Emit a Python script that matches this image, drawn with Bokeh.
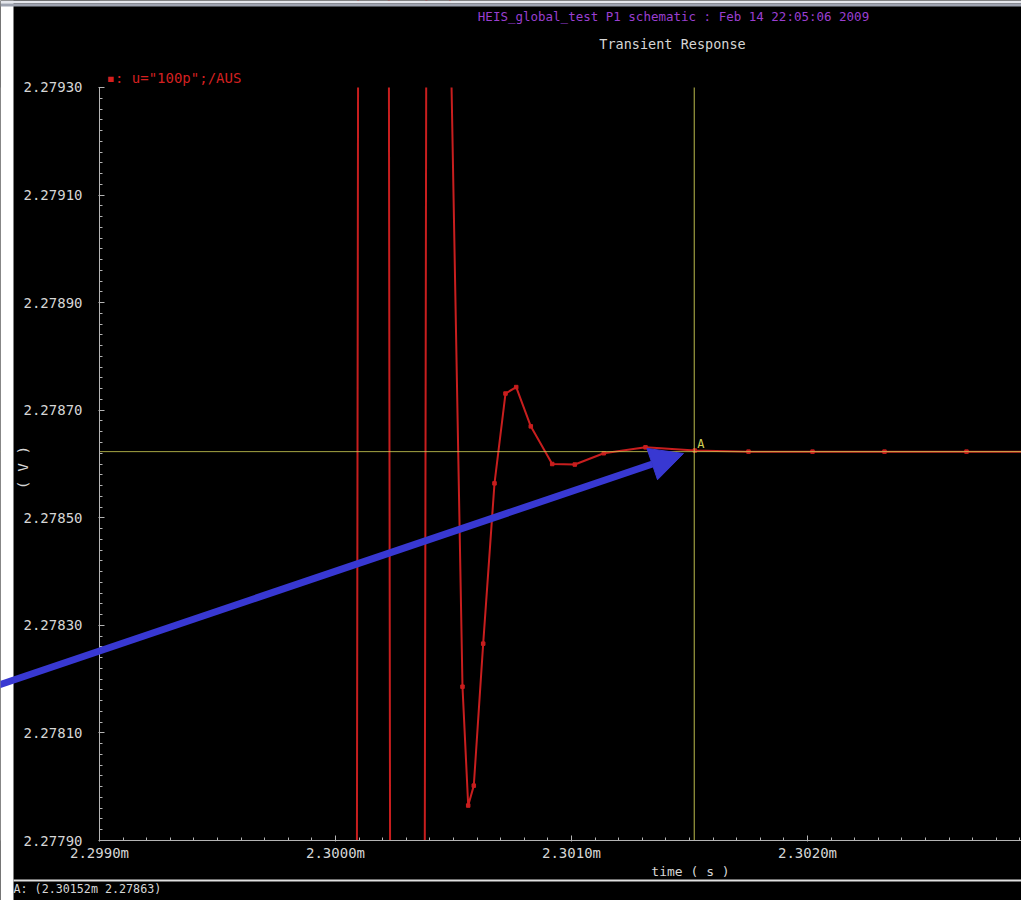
import math
from bokeh.plotting import figure
from bokeh.models import (Range1d, FixedTicker, PrintfTickFormatter, Span, Label,
                          Arrow, NormalHead, BoxAnnotation, ColumnDataSource)
from bokeh.embed import file_html
from bokeh.resources import INLINE

# ---- data (time in ms, voltage in V) ----
time_ms = [2.29865, 2.3000254, 2.3001610, 2.3002966, 2.3003898, 2.3004746,
           2.3005381, 2.3005623, 2.3005860, 2.3006258, 2.3006737, 2.3007203,
           2.3007657, 2.3008275, 2.3009182, 2.3010140, 2.3011369, 2.3013136,
           2.3015225, 2.3017500, 2.3020212, 2.3023263, 2.3026737, 2.3030636]
volts = [2.25500, 2.25860, 2.29860, 2.25860, 2.28060, 2.279713,
         2.278186, 2.277965, 2.278002, 2.278266, 2.278564, 2.278731,
         2.278743, 2.278670, 2.278600, 2.278599, 2.278620, 2.278631,
         2.278625, 2.278623, 2.278623, 2.278623, 2.278623, 2.278623]

marker_t = 2.30152
marker_v = 2.278623
marker_text = "A: (2.30152m 2.27863)"

x_ticks = [2.2990, 2.3000, 2.3010, 2.3020]
y_ticks = [2.27790, 2.27810, 2.27830, 2.27850, 2.27870, 2.27890, 2.27910, 2.27930]
x_axis_span = (2.2990, 2.3029068)
y_axis_span = (2.27790, 2.27930)

# arrow annotation (tail, head) in data space
arrow_tail = (2.29856, 2.278187)
arrow_head = (2.3014746, 2.2786195)

header_text = "HEIS_global_test P1 schematic : Feb 14 22:05:06 2009"
title_text = "Transient Response"
legend_text = '\u25aa: u="100p";/AUS'

FONT = "DejaVu Sans Mono"
RED = "#c81e1e"
YEL = "#cfcf55"
GRAY = "#b4b4b4"
TXT = "#d6d6d6"
BLUE = "#3838d2"

# view extents: whole canvas is the frame; axes sit at fixed locations
X0, X1 = 2.29858051, 2.30290678
Y0, Y1 = 2.27778845, 2.27946175

p = figure(width=1021, height=900,
           x_range=Range1d(X0, X1), y_range=Range1d(Y0, Y1),
           output_backend="svg", toolbar_location=None,
           background_fill_color="black", border_fill_color="black",
           outline_line_color=None,
           min_border_left=0, min_border_right=0, min_border_top=0, min_border_bottom=0)
p.xgrid.visible = False
p.ygrid.visible = False

x_minor = [2.2990 + i * 0.0001 for i in range(0, 40)]
y_minor = [2.27790 + i * 0.00002 for i in range(0, 71)]
p.xaxis.ticker = FixedTicker(ticks=x_ticks, minor_ticks=x_minor)
p.yaxis.ticker = FixedTicker(ticks=y_ticks, minor_ticks=y_minor)
p.xaxis.formatter = PrintfTickFormatter(format="%.4fm")
p.yaxis.formatter = PrintfTickFormatter(format="%.5f")
p.xaxis.fixed_location = y_axis_span[0]
p.yaxis.fixed_location = x_axis_span[0]
p.xaxis.bounds = (x_axis_span[0] - 1e-9, x_axis_span[1])
p.yaxis.bounds = (y_axis_span[0] - 1e-9, y_axis_span[1] + 1e-9)

for ax in (p.xaxis, p.yaxis):
    ax.axis_line_color = GRAY
    ax.major_tick_line_color = GRAY
    ax.minor_tick_line_color = GRAY
    ax.major_tick_in = 5
    ax.major_tick_out = 1
    ax.minor_tick_in = 3
    ax.minor_tick_out = 0
    ax.major_label_text_font = FONT
    ax.major_label_text_font_size = "14px"
    ax.major_label_text_color = TXT
p.yaxis.major_label_standoff = 16
p.xaxis.major_label_standoff = 3

src = ColumnDataSource(dict(t=time_ms, v=volts))
p.line("t", "v", source=src, line_color=RED, line_width=2)
p.scatter("t", "v", source=src, marker="square", size=3.5, fill_color=RED, line_color=RED)

# crosshair (glyph level so the plot-area mask applies)
p.add_layout(Span(location=marker_t, dimension="height", line_color=YEL, line_width=1,
                  line_alpha=0.9, level="glyph"))
p.add_layout(Span(location=marker_v, dimension="width", line_color=YEL, line_width=1,
                  line_alpha=0.8, level="glyph"))

# mask everything outside the plotting area (drawn before the axes)
for l, r, b, t in [(X0, X1, y_axis_span[1], Y1),
                   (X0, X1, Y0, y_axis_span[0]),
                   (X0, x_axis_span[0], Y0, Y1)]:
    p.add_layout(BoxAnnotation(left=l, right=r, bottom=b, top=t, fill_color="black",
                               fill_alpha=1, line_color=None, level="glyph"))

p.add_layout(Label(x=marker_t, y=marker_v, x_offset=3, y_offset=1, text="A",
                   text_font=FONT, text_font_size="12px", text_color=YEL,
                   text_baseline="bottom"))

# screenshot frame pieces
def cbox(l, r, t, b, color):
    p.add_layout(BoxAnnotation(left=l, right=r, top=t, bottom=b,
                               left_units="canvas", right_units="canvas",
                               top_units="canvas", bottom_units="canvas",
                               fill_color=color, fill_alpha=1, line_color=None))

cbox(0, 13, 0, 900, "white")
cbox(0, 1021, 0, 3, "#e4e6ec")
cbox(0, 1021, 3, 6, "#9ea3b0")
cbox(13, 1021, 879, 881, "#e0e0e0")

def lab(x, y, text, color, size, align="center", angle=0.0):
    p.add_layout(Label(x=x, y=y, x_units="canvas", y_units="canvas", text=text,
                       text_font=FONT, text_font_size=size, text_color=color,
                       text_align=align, text_baseline="middle", angle=angle))

lab(673, 16, header_text, "#9a3fd0", "12.5px")
lab(672, 43, title_text, TXT, "13.5px")
lab(106, 77, legend_text, "#d42020", "14px", align="left")
lab(690, 871, "time ( s )", TXT, "13px")
lab(22, 467, "( V )", TXT, "14.5px", angle=math.pi / 2)
lab(13, 888, marker_text, TXT, "11.7px", align="left")

p.add_layout(Arrow(end=NormalHead(size=33, fill_color=BLUE, line_color=BLUE),
                   x_start=arrow_tail[0], y_start=arrow_tail[1],
                   x_end=arrow_head[0], y_end=arrow_head[1],
                   line_color=BLUE, line_width=7))

open("out.html", "w").write(file_html(p, INLINE))
